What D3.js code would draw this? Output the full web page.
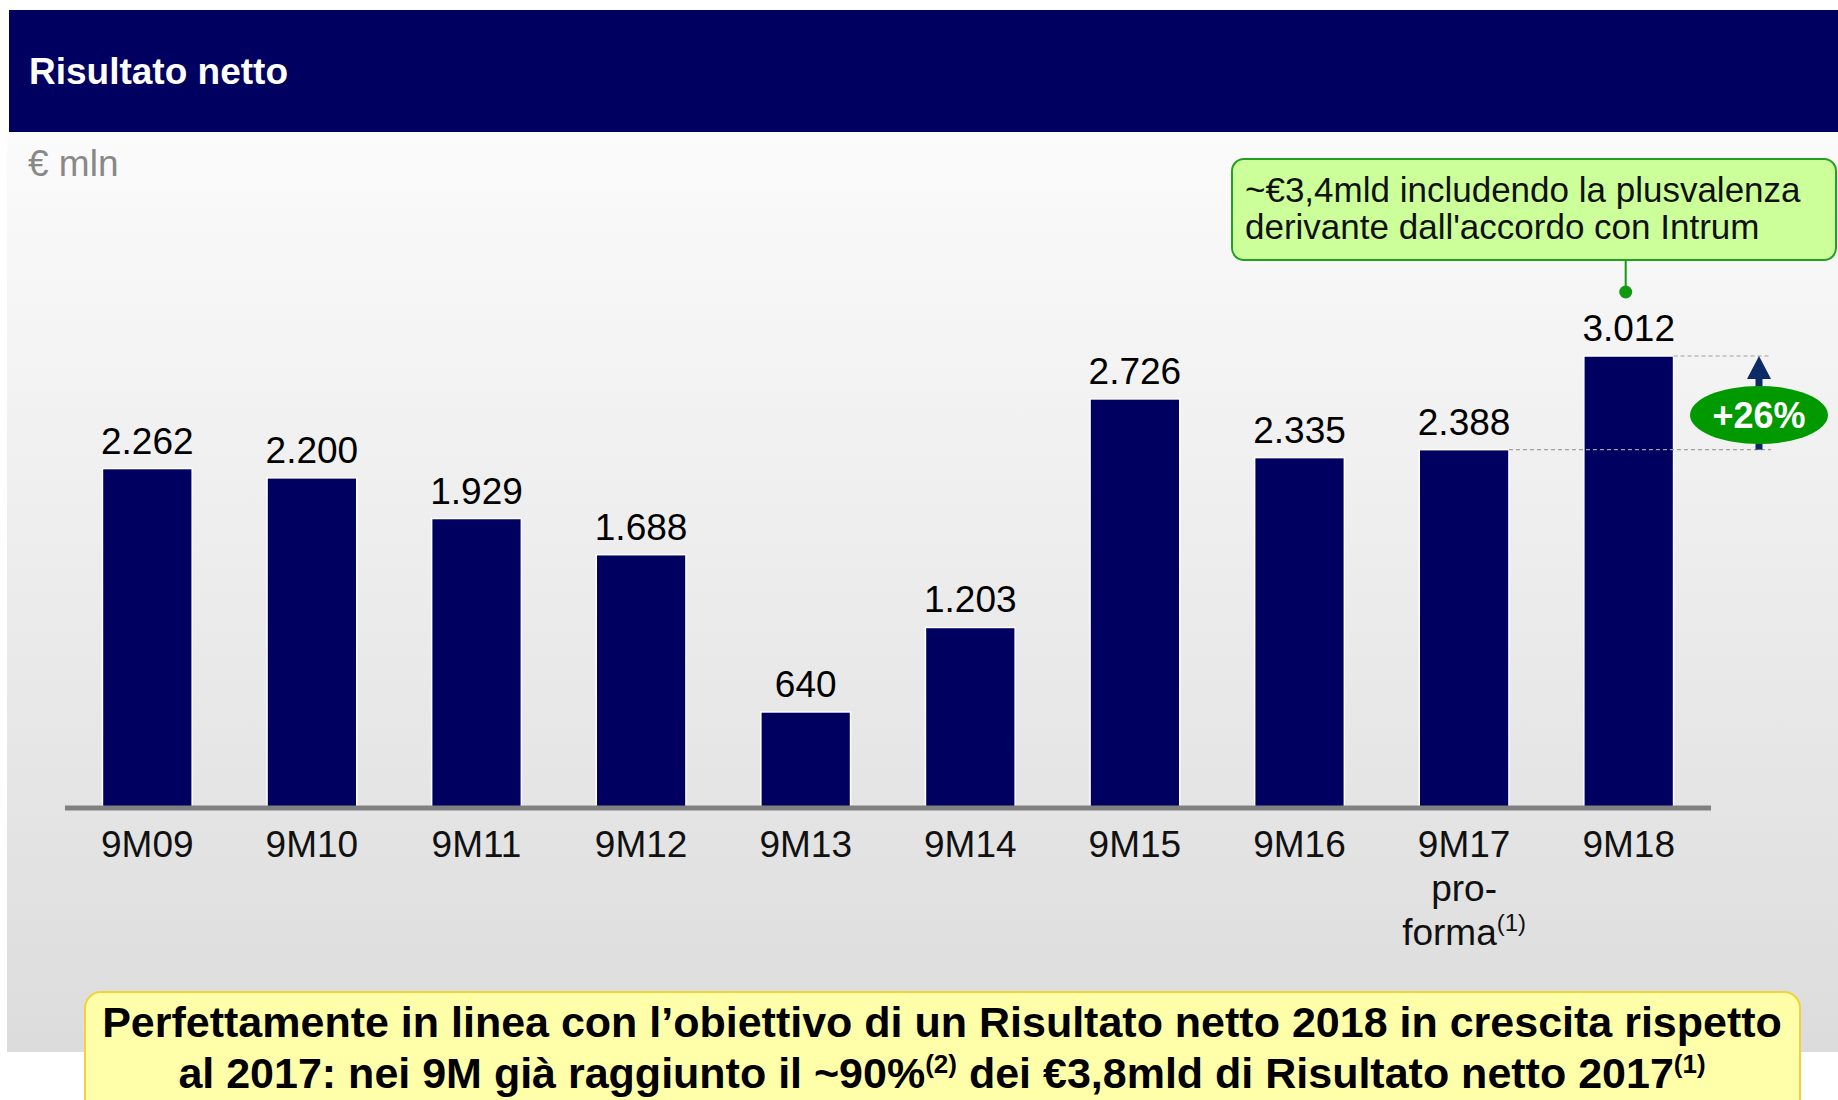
<!DOCTYPE html>
<html>
<head>
<meta charset="utf-8">
<script src="https://cdn.jsdelivr.net/npm/d3@7"></script>
<style>
  body { margin: 0; background: #ffffff; }
  svg { display: block; font-family: "Liberation Sans", Arial, sans-serif; }
</style>
</head>
<body>
<svg></svg>
<script>
// chart data
var categories = ["9M09", "9M10", "9M11", "9M12", "9M13", "9M14", "9M15", "9M16", "9M17", "9M18"];
var values = [2262, 2200, 1929, 1688, 640, 1203, 2726, 2335, 2388, 3012];
var subLabels = {"9M17": ["pro-", "forma"]};
var growthFrom = "9M17";
var growthTo = "9M18";
var growthLabel = "+26%";
var calloutLines = ["~€3,4mld includendo la plusvalenza", "derivante dall'accordo con Intrum"];

var width = 1838, height = 1100;
var svg = d3.select("svg").attr("width", width).attr("height", height);

var navy = "#000060";
var font = "'Liberation Sans', Arial, sans-serif";

// background gradient
var defs = svg.append("defs");
var grad = defs.append("linearGradient")
    .attr("id", "bg").attr("x1", 0).attr("y1", 0).attr("x2", 0).attr("y2", 1);
grad.append("stop").attr("offset", "0%").attr("stop-color", "#fbfbfb");
grad.append("stop").attr("offset", "100%").attr("stop-color", "#dcdcdc");

svg.append("rect")
    .attr("x", 7).attr("y", 132)
    .attr("width", width - 7).attr("height", 1052 - 132)
    .attr("fill", "url(#bg)");

// header
svg.append("rect")
    .attr("x", 9).attr("y", 10)
    .attr("width", width - 9).attr("height", 122)
    .attr("fill", navy);

svg.append("text")
    .attr("x", 29).attr("y", 84)
    .attr("fill", "#ffffff")
    .style("font-weight", "bold")
    .style("font-size", "37px")
    .text("Risultato netto");

svg.append("text")
    .attr("x", 28).attr("y", 176)
    .attr("fill", "#888888")
    .style("font-size", "37px")
    .text("€ mln");

// scales
var baseY = 808;
var xScale = d3.scaleBand()
    .domain(categories)
    .range([65, 1711])
    .paddingInner(0.455)
    .paddingOuter(0.2275);

var yScale = d3.scaleLinear()
    .domain([0, d3.max(values)])
    .range([baseY, 356]);

var fmt = d3.formatLocale({decimal: ",", thousands: ".", grouping: [3], currency: ["€", ""]}).format(",d");

var data = categories.map(function (c, i) { return {cat: c, value: values[i]}; });

// bars
svg.selectAll(".bar")
    .data(data)
    .enter()
    .append("rect")
    .attr("class", "bar")
    .attr("x", function (d) { return xScale(d.cat); })
    .attr("y", function (d) { return yScale(d.value); })
    .attr("width", xScale.bandwidth())
    .attr("height", function (d) { return baseY - yScale(d.value); })
    .attr("fill", navy)
    .attr("stroke", "#ffffff")
    .attr("stroke-width", 1.5);

// value labels
svg.selectAll(".vlabel")
    .data(data)
    .enter()
    .append("text")
    .attr("class", "vlabel")
    .attr("x", function (d) { return xScale(d.cat) + xScale.bandwidth() / 2; })
    .attr("y", function (d) { return yScale(d.value) - 15; })
    .attr("text-anchor", "middle")
    .style("font-size", "37px")
    .attr("fill", "#000000")
    .text(function (d) { return fmt(d.value); });

// x axis
var xAxis = d3.axisBottom(xScale).tickSize(0).tickPadding(0);
var gx = svg.append("g")
    .attr("transform", "translate(0," + baseY + ")")
    .call(xAxis);
gx.select(".domain")
    .attr("d", "M" + xScale.range()[0] + ",0H" + xScale.range()[1])
    .attr("stroke", "#808080")
    .attr("stroke-width", 5);
gx.selectAll(".tick text")
    .attr("y", 49)
    .attr("dy", null)
    .style("font-size", "37px")
    .style("font-family", font)
    .attr("fill", "#111111");

// extra lines below the 9M17 tick
gx.selectAll(".tick").each(function (c) {
    var lines = subLabels[c];
    if (!lines) return;
    var g = d3.select(this);
    g.append("text")
        .attr("y", 93).attr("text-anchor", "middle")
        .style("font-size", "37px").style("font-family", font)
        .attr("fill", "#111111")
        .text(lines[0]);
    var t = g.append("text")
        .attr("y", 137).attr("text-anchor", "middle")
        .style("font-size", "37px").style("font-family", font)
        .attr("fill", "#111111");
    t.append("tspan").text(lines[1]);
    t.append("tspan").attr("dy", -14).style("font-size", "24px").text("(1)");
});

// growth comparison
var xTo = xScale(growthTo) + xScale.bandwidth();
var xFrom = xScale(growthFrom) + xScale.bandwidth();
var yTo = yScale(values[categories.indexOf(growthTo)]);
var yFrom = yScale(values[categories.indexOf(growthFrom)]);
var arrowX = 1759;

svg.append("line")
    .attr("x1", xTo).attr("x2", 1771).attr("y1", yTo).attr("y2", yTo)
    .attr("stroke", "#a0a0a0").attr("stroke-width", 1.2).attr("stroke-dasharray", "4,3");
svg.append("line")
    .attr("x1", xFrom).attr("x2", 1771).attr("y1", yFrom).attr("y2", yFrom)
    .attr("stroke", "#a0a0a0").attr("stroke-width", 1.2).attr("stroke-dasharray", "4,3");

svg.append("line")
    .attr("x1", arrowX).attr("x2", arrowX)
    .attr("y1", yFrom).attr("y2", yTo + 20)
    .attr("stroke", "#0b2a66").attr("stroke-width", 7);
svg.append("path")
    .attr("d", d3.line()([[arrowX - 12, yTo + 23], [arrowX + 12, yTo + 23], [arrowX, yTo]]) + "Z")
    .attr("fill", "#0b2a66");

svg.append("ellipse")
    .attr("cx", arrowX).attr("cy", 415)
    .attr("rx", 69).attr("ry", 29)
    .attr("fill", "#009900");
svg.append("text")
    .attr("x", arrowX).attr("y", 428)
    .attr("text-anchor", "middle")
    .attr("fill", "#ffffff")
    .style("font-weight", "bold")
    .style("font-size", "36px")
    .text(growthLabel);

// callout for 9M18
var calloutX = xScale(growthTo) + xScale.bandwidth() / 2 - 3;
svg.append("line")
    .attr("x1", calloutX).attr("x2", calloutX)
    .attr("y1", 260).attr("y2", 292)
    .attr("stroke", "#119911").attr("stroke-width", 2);
svg.append("circle")
    .attr("cx", calloutX).attr("cy", 292).attr("r", 6.5)
    .attr("fill", "#119911");

svg.append("rect")
    .attr("x", 1232).attr("y", 159)
    .attr("width", 604).attr("height", 101)
    .attr("rx", 12)
    .attr("fill", "#ccff99")
    .attr("stroke", "#22a022")
    .attr("stroke-width", 2);

svg.selectAll(".callout")
    .data(calloutLines)
    .enter()
    .append("text")
    .attr("class", "callout")
    .attr("x", 1245)
    .attr("y", function (d, i) { return 202 + i * 37; })
    .style("font-size", "35px")
    .attr("fill", "#111111")
    .text(function (d) { return d; });

// bottom message box
svg.append("rect")
    .attr("x", 85).attr("y", 992)
    .attr("width", 1715).attr("height", 130)
    .attr("rx", 16)
    .attr("fill", "#ffffaa")
    .attr("stroke", "#f2d23c")
    .attr("stroke-width", 2);

svg.append("text")
    .attr("x", 942).attr("y", 1037)
    .attr("text-anchor", "middle")
    .style("font-weight", "bold")
    .style("font-size", "43px")
    .text("Perfettamente in linea con l\u2019obiettivo di un Risultato netto 2018 in crescita rispetto");

var t2 = svg.append("text")
    .attr("x", 942).attr("y", 1088)
    .attr("text-anchor", "middle")
    .style("font-weight", "bold")
    .style("font-size", "43px");
t2.append("tspan").text("al 2017: nei 9M già raggiunto il ~90%");
t2.append("tspan").attr("dy", -15).style("font-size", "26px").text("(2)");
t2.append("tspan").attr("dy", 15).text(" dei €3,8mld di Risultato netto 2017");
t2.append("tspan").attr("dy", -15).style("font-size", "26px").text("(1)");
</script>
</body>
</html>
